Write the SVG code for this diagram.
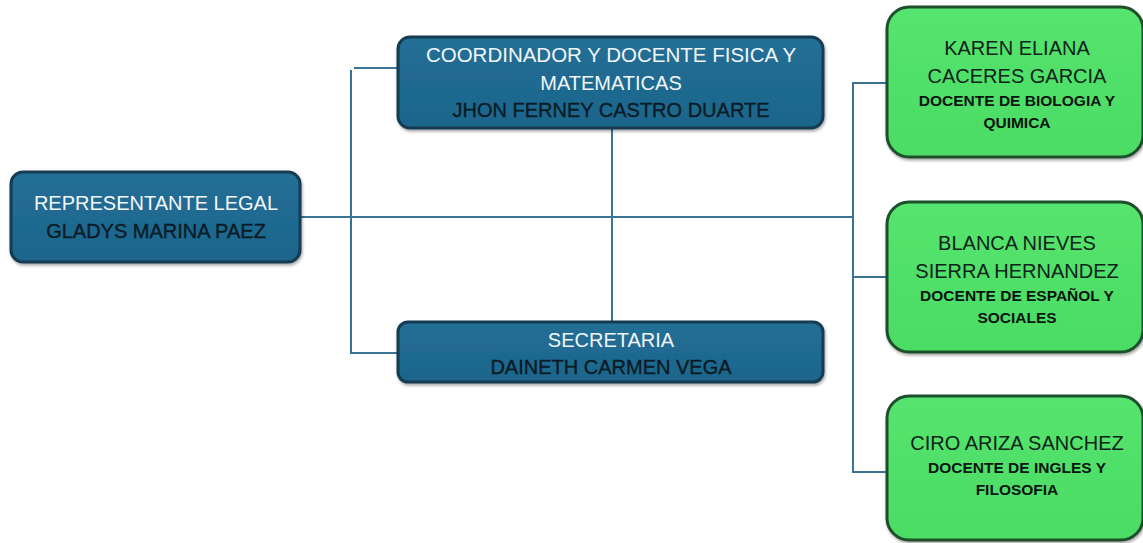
<svg xmlns="http://www.w3.org/2000/svg" width="1143" height="543" viewBox="0 0 1143 543">
<defs>
<linearGradient id="gBlue" x1="0" y1="0" x2="0" y2="1">
<stop offset="0" stop-color="#236f96"/>
<stop offset="1" stop-color="#1c658b"/>
</linearGradient>
<linearGradient id="gGreen" x1="0" y1="0" x2="0" y2="1">
<stop offset="0" stop-color="#55e46e"/>
<stop offset="1" stop-color="#4bdc64"/>
</linearGradient>
<filter id="sh" x="-5%" y="-5%" width="110%" height="115%">
<feDropShadow dx="1" dy="2" stdDeviation="1.5" flood-color="#000" flood-opacity="0.35"/>
</filter>
</defs>
<style>
.blue{fill:url(#gBlue);stroke:#123a52;stroke-width:3;filter:url(#sh)}
.green{fill:url(#gGreen);stroke:#1e4f2c;stroke-width:3;filter:url(#sh)}
.conn{fill:none;stroke:#3b7394;stroke-width:2}
text{font-family:"Liberation Sans",Arial,sans-serif;text-anchor:middle}
.w{fill:#f2f6f9;font-size:20px}
.wl{fill:#f2f6f9;font-size:20.5px}
.k{fill:#0b1a24;font-size:20px;stroke:#0b1a24;stroke-width:0.35}
.g{fill:#10231a;font-size:20px}
.b{fill:#0a140e;font-size:15.5px;font-weight:bold}
</style>
<rect width="1143" height="543" fill="#ffffff"/>
<g id="connectors">
<path class="conn" d="M301 217H853"/>
<path class="conn" d="M351 70V353H398"/>
<path class="conn" d="M354 68H398"/>
<path class="conn" d="M612 128V322"/>
<path class="conn" d="M887 83H853V472H887"/>
<path class="conn" d="M853 277H887"/>
</g>
<g id="representante">
<rect class="blue" x="11" y="172" width="289" height="90" rx="12"/>
<text class="w" x="156" y="210">REPRESENTANTE LEGAL</text>
<text class="k" x="156" y="238">GLADYS MARINA PAEZ</text>
</g>
<g id="coordinador">
<rect class="blue" x="398" y="37" width="425" height="91" rx="12"/>
<text class="wl" x="611" y="62">COORDINADOR Y DOCENTE FISICA Y</text>
<text class="w" x="611" y="90">MATEMATICAS</text>
<text class="k" x="611" y="117">JHON FERNEY CASTRO DUARTE</text>
</g>
<g id="secretaria">
<rect class="blue" x="398" y="322" width="425" height="60" rx="10"/>
<text class="w" x="611" y="347">SECRETARIA</text>
<text class="k" x="611" y="374">DAINETH CARMEN VEGA</text>
</g>
<g id="karen">
<rect class="green" x="887" y="7" width="256" height="150" rx="22"/>
<text class="g" x="1017" y="55">KAREN ELIANA</text>
<text class="g" x="1017" y="83">CACERES GARCIA</text>
<text class="b" x="1017" y="106">DOCENTE DE BIOLOGIA Y</text>
<text class="b" x="1017" y="128">QUIMICA</text>
</g>
<g id="blanca">
<rect class="green" x="887" y="202" width="256" height="150" rx="22"/>
<text class="g" x="1017" y="250">BLANCA NIEVES</text>
<text class="g" x="1017" y="278">SIERRA HERNANDEZ</text>
<text class="b" x="1017" y="301">DOCENTE DE ESPAÑOL Y</text>
<text class="b" x="1017" y="323">SOCIALES</text>
</g>
<g id="ciro">
<rect class="green" x="887" y="396" width="256" height="144" rx="22"/>
<text class="g" x="1017" y="450">CIRO ARIZA SANCHEZ</text>
<text class="b" x="1017" y="473">DOCENTE DE INGLES Y</text>
<text class="b" x="1017" y="495">FILOSOFIA</text>
</g>
</svg>
